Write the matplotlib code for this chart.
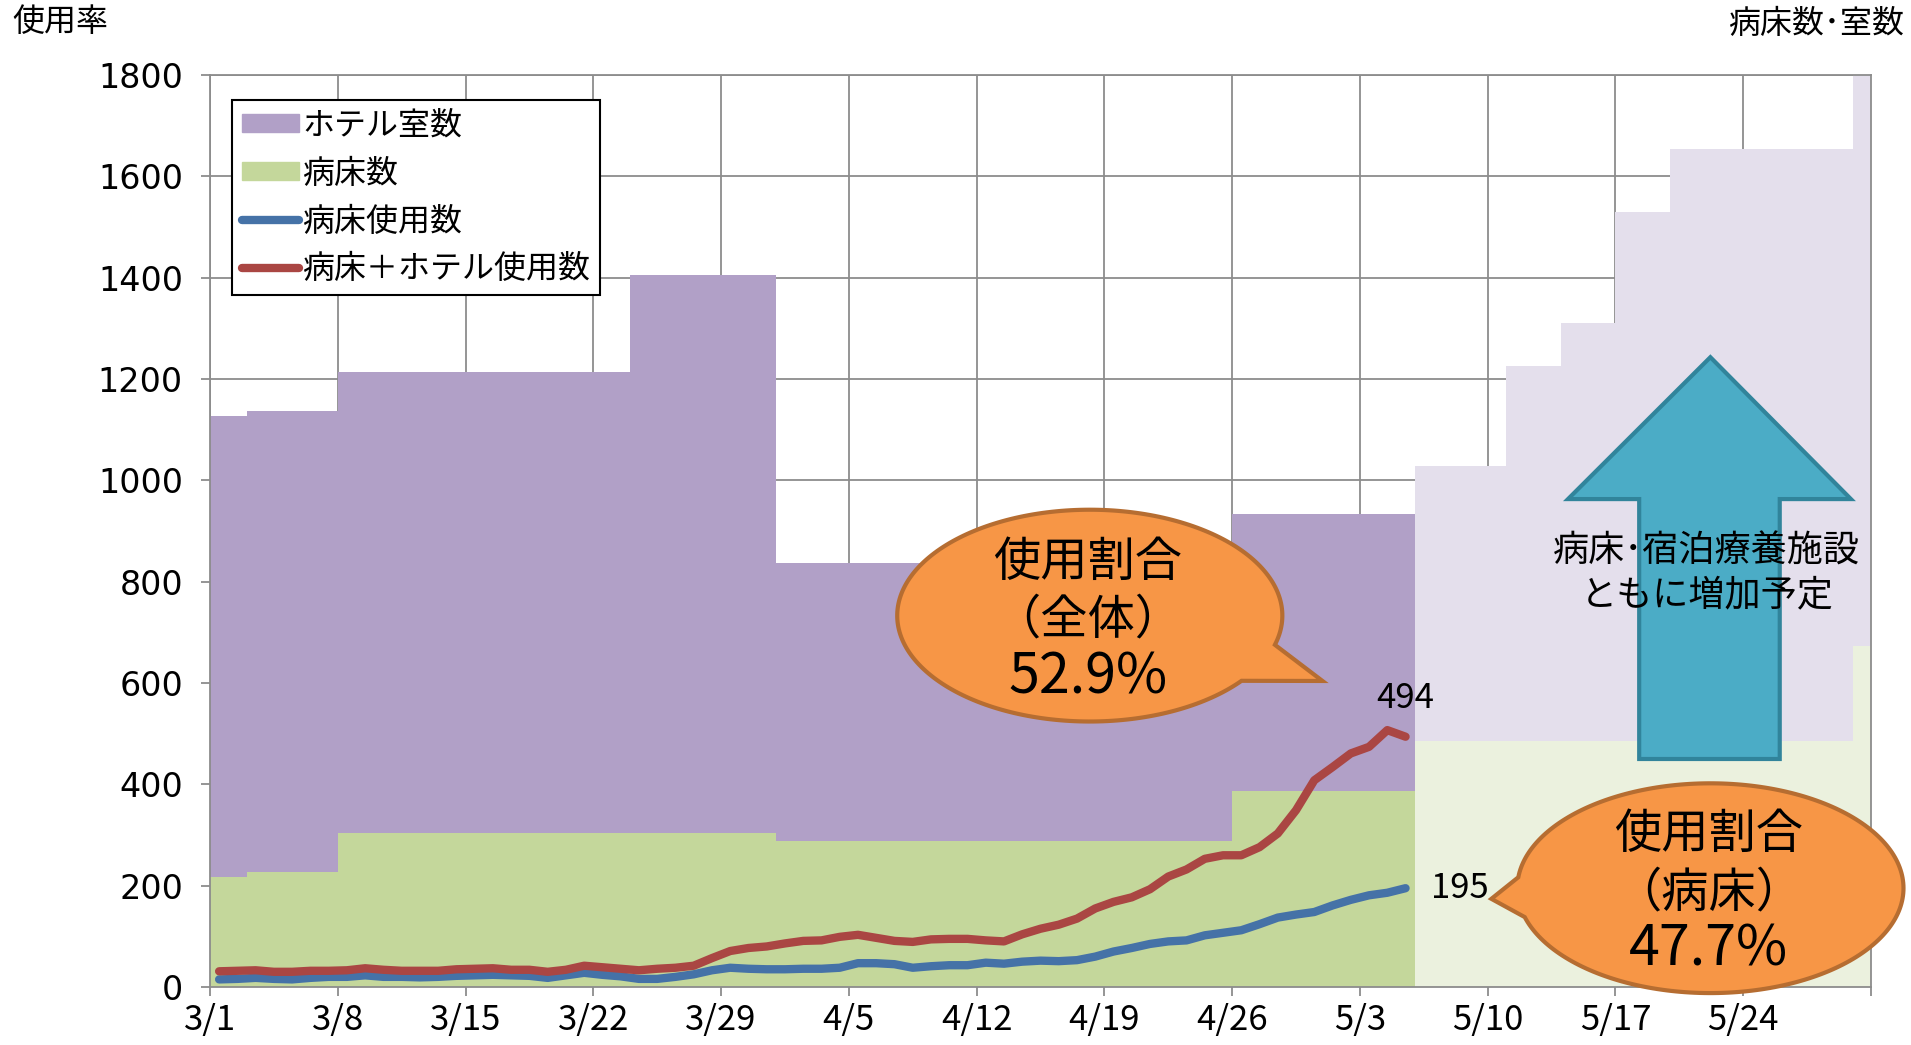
import numpy as np
import pandas as pd
import matplotlib
matplotlib.use('Agg')
import matplotlib.pyplot as plt
from matplotlib.patches import Patch, Polygon
from matplotlib.lines import Line2D

plt.rcParams['font.family'] = ['Noto Sans CJK JP', 'DejaVu Sans']

# ---- data ----
year = 2020
first_day = '3/1'
last_day = '5/31'

# capacity steps (start date of each period)
seg_start = ['3/1', '3/3', '3/8', '3/24', '4/1', '4/26',
             '5/6', '5/11', '5/14', '5/17', '5/20', '5/30']
beds = [217, 227, 304, 304, 289, 387,
        485, 485, 485, 485, 485, 674]
hotel_rooms = [910, 910, 909, 1102, 547, 546,
               543, 741, 826, 1045, 1169, 1126]
plan_from = '5/6'

# daily usage 3/1 - 5/5
used_total = [31, 32, 33, 30, 30, 32, 32, 33, 37, 34, 32, 32, 32, 35,
              36, 37, 34, 34, 30, 34, 42, 39, 36, 33, 36, 38, 42, 57,
              71, 77, 80, 86, 91, 92, 99, 103, 97, 91, 89, 94, 95,
              95, 92, 90, 104, 115, 123, 135, 155, 168, 177, 193, 218,
              232, 253, 260, 260, 276, 303, 349, 408, 434, 461, 474, 507, 494]
used_beds = [15, 16, 18, 16, 15, 18, 20, 20, 23, 20, 20, 19, 20, 22,
             23, 24, 23, 22, 18, 23, 28, 24, 21, 16, 16, 20, 25, 33,
             38, 36, 35, 35, 36, 36, 38, 47, 47, 45, 38, 41, 43,
             43, 48, 46, 50, 52, 51, 53, 60, 70, 77, 85, 90,
             92, 102, 107, 112, 124, 137, 143, 148, 161, 172, 181, 186, 195]

tick_labels = ['3/1', '3/8', '3/15', '3/22', '3/29', '4/5', '4/12',
               '4/19', '4/26', '5/3', '5/10', '5/17', '5/24']

PURPLE = '#b1a0c7'
GREEN = '#c4d79b'
PURPLE_L = '#e4dfec'
GREEN_L = '#ebf1de'
BLUE = '#4572a7'
RED = '#aa4643'
GRID = '#8c8c8c'


def day(s):
    d0 = pd.Timestamp(f'{year}/{first_day}')
    return (pd.Timestamp(f'{year}/{s}') - d0).days


x_edges = np.array([day(s) for s in seg_start] + [day(last_day)])
b = np.array(beds + [beds[-1]])
t = b + np.array(hotel_rooms + [hotel_rooms[-1]])
k = seg_start.index(plan_from)

fig = plt.figure(figsize=(19.11, 10.45), dpi=100)
ax = fig.add_axes([210 / 1911, 1 - 987 / 1045, 1661 / 1911, 912 / 1045])

# actual period
xa = x_edges[:k + 1]
ba = np.r_[b[:k], b[k - 1]]
ta = np.r_[t[:k], t[k - 1]]
ax.fill_between(xa, 0, ba, step='post', color=GREEN, lw=0, zorder=2)
ax.fill_between(xa, ba, ta, step='post', color=PURPLE, lw=0, zorder=2)
# planned period
xp = x_edges[k:]
ax.fill_between(xp, 0, b[k:], step='post', color=GREEN_L, lw=0, zorder=2)
ax.fill_between(xp, b[k:], t[k:], step='post', color=PURPLE_L, lw=0, zorder=2)

xl = np.arange(len(used_total)) + 0.5
ax.plot(xl, used_beds, color=BLUE, lw=6, solid_capstyle='round',
        solid_joinstyle='round', zorder=4)
ax.plot(xl, used_total, color=RED, lw=6, solid_capstyle='round',
        solid_joinstyle='round', zorder=4)

ax.set_xlim(0, day(last_day))
ax.set_ylim(0, 1800)
ax.set_xticks([day(s) for s in tick_labels] + [day(last_day)])
ax.set_xticklabels(tick_labels + [''])
ax.set_yticks(np.arange(0, 1801, 200))
ax.grid(True, color=GRID, lw=1.3)
ax.set_axisbelow(True)
for sp in ax.spines.values():
    sp.set_color(GRID)
    sp.set_linewidth(1.3)
ax.tick_params(axis='both', colors=GRID, width=1.3, length=6.5,
               labelcolor='black')
ax.tick_params(axis='y', labelsize=24, pad=13)
ax.tick_params(axis='x', labelsize=25, pad=5)
for lab in ax.get_yticklabels():
    lab.set_fontfamily('DejaVu Sans')

# last values
ax.text(xl[-1], 570, f'{used_total[-1]}', ha='center', va='center',
        fontsize=25, zorder=6)
ax.text(66.9, used_beds[-1], f'{used_beds[-1]}', ha='left', va='center',
        fontsize=25, zorder=6)

# arrow
arrow = [(82.2, 1243), (74.4, 963), (78.3, 963), (78.3, 450),
         (86.0, 450), (86.0, 963), (89.9, 963)]
ax.add_patch(Polygon(arrow, closed=True, facecolor='#4bacc6',
                     edgecolor='#31849b', lw=3, zorder=5))
ax.text(82.0, 859, '病床･宿泊療養施設', ha='center', va='center',
        fontsize=26, zorder=6)
ax.text(82.0, 774, 'ともに増加予定', ha='center', va='center',
        fontsize=26, zorder=6)


def bubble(cx, cy, rx, ry, tip, a1, a2):
    ang = np.radians(np.linspace(a2, a1 + 360, 240))
    pts = list(zip(cx + rx * np.cos(ang), cy + ry * np.sin(ang))) + [tip]
    ax.add_patch(Polygon(pts, closed=True, facecolor='#f79646',
                         edgecolor='#b66d31', lw=3, zorder=7,
                         clip_on=False))


bubble(48.2, 733, 10.55, 209, (60.95, 604), -38, -16)
ax.text(48.1, 837, '使用割合', ha='center', va='center', fontsize=34, zorder=8)
ax.text(48.1, 724, '（全体）', ha='center', va='center', fontsize=34, zorder=8)
ax.text(48.1, 610, '52.9%', ha='center', va='center', fontsize=40, zorder=8)

bubble(82.2, 195, 10.58, 207, (70.2, 174), 174, 196)
ax.text(82.1, 300, '使用割合', ha='center', va='center', fontsize=34, zorder=8)
ax.text(82.1, 186, '（病床）', ha='center', va='center', fontsize=34, zorder=8)
ax.text(82.1, 73, '47.7%', ha='center', va='center', fontsize=40, zorder=8)

handles = [Patch(color=PURPLE), Patch(color=GREEN),
           Line2D([], [], color=BLUE, lw=6, solid_capstyle='round'),
           Line2D([], [], color=RED, lw=6, solid_capstyle='round')]
labels = ['ホテル室数', '病床数', '病床使用数', '病床＋ホテル使用数']
leg = ax.legend(handles, labels, loc='upper left',
                bbox_to_anchor=(0.0132, 0.9726), borderaxespad=0,
                fontsize=23, fancybox=False, framealpha=1,
                edgecolor='black', handlelength=1.8, handleheight=0.5,
                handletextpad=0.1, labelspacing=0.5, borderpad=0.3)
leg.get_frame().set_linewidth(1.5)
leg.set_zorder(9)

fig.text(12 / 1911, 1 - 22 / 1045, '使用率', ha='left', va='center',
         fontsize=23)
fig.text(1904 / 1911, 1 - 24 / 1045, '病床数･室数', ha='right',
         va='center', fontsize=23)

fig.savefig('out.png', dpi=100)
